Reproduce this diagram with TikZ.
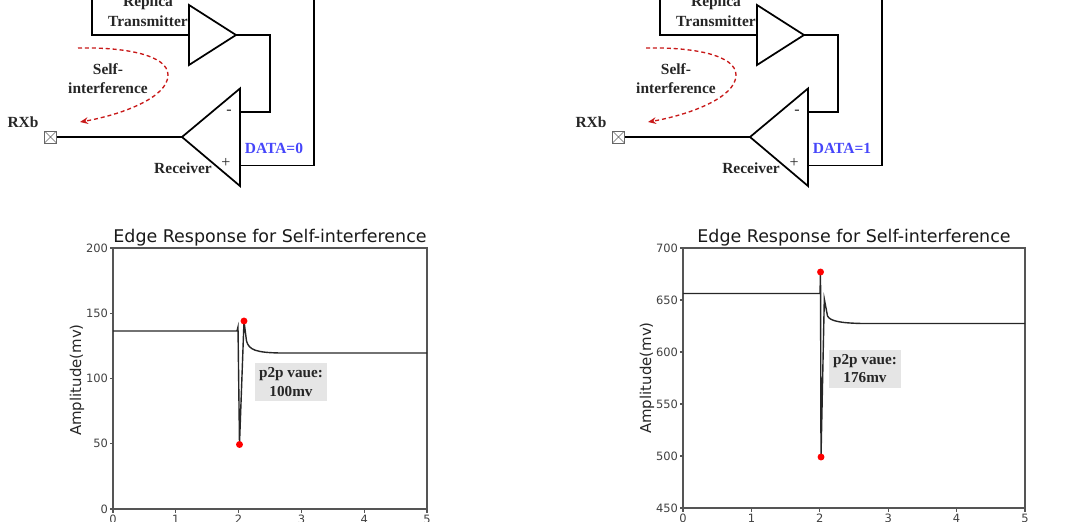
\documentclass[tikz,border=0pt]{standalone}
\usepackage{fontspec}
\setmainfont{Liberation Serif}
\newfontfamily\plotfont{DejaVu Sans}
\usetikzlibrary{arrows.meta}

\definecolor{databl}{RGB}{70,70,250}
\definecolor{sired}{RGB}{200,25,25}
\definecolor{axgray}{RGB}{85,85,85}

\tikzset{every picture/.style={line width=0.75pt}}
\tikzset{
  cirlbl/.style={font=\fontsize{11.6}{13.5}\selectfont\bfseries, text=black!85, inner sep=0pt},
  signlbl/.style={font=\fontsize{12}{14}\selectfont, text=black!85, inner sep=0pt},
  ticklbl/.style={font=\plotfont\fontsize{8.6}{10}\selectfont, text=black!75, inner sep=0pt},
  plottitle/.style={font=\plotfont\fontsize{13.1}{15}\selectfont, text=black!90, inner sep=0pt},
  axlbl/.style={font=\plotfont\fontsize{11.2}{13}\selectfont, text=black!85, inner sep=0pt, rotate=90},
  p2pbox/.style={fill=black!10, inner sep=0pt, minimum width=54pt, minimum height=28.5pt, align=center,
    font=\fontsize{11.4}{13.8}\selectfont\bfseries, text=black!85},
  reddot/.style={circle, fill=red, inner sep=0pt, minimum size=5.2pt},
  pad/.style={draw=black!60, fill=white, line width=0.6, inner sep=0pt, minimum size=9pt,
    path picture={\draw [black!60, line width=0.5] (path picture bounding box.north west) -- (path picture bounding box.south east)
      (path picture bounding box.north east) -- (path picture bounding box.south west);}}
}

\begin{document}
\begin{tikzpicture}[x=0.75pt,y=0.75pt,yscale=-1,xscale=1]
	%set diagram size 1080 x 521
	\useasboundingbox (0,0) rectangle (1080,521);
	\clip (0,0) rectangle (1080,521);

	%Circuits, DATA=0 and DATA=1
	\foreach \dx/\bit/\s in {0/0/a,568/1/b}{
	\begin{scope}[shift={(\dx,0)}]
	%Shape: Triangle [replica transmitter]
	\draw [line width=1.3] (189,5) -- (236,35) -- (189,65) -- cycle ;
	\coordinate (txin\s) at (189,35) ;
	\coordinate (txout\s) at (236,35) ;
	%Shape: Triangle [receiver]
	\draw [line width=1.3] (240,88.5) -- (182,137) -- (240,186) -- cycle ;
	\coordinate (rxin\s) at (182,137) ;
	\coordinate (rxneg\s) at (240,112) ;
	\coordinate (rxpos\s) at (240,165.5) ;
	%Straight Lines [transmitter input]
	\draw [line width=1.3] (92,-2) |- (txin\s) ;
	%Straight Lines [replica to minus]
	\draw [line width=1.3] (txout\s) -- (270,35) |- (rxneg\s) ;
	%Straight Lines [plus input]
	\draw [line width=1.3] (rxpos\s) -| (314,-2) ;
	%Pad
	\node (pad\s) [pad] at (50.5,137) {};
	\draw [line width=1.3] (pad\s.east) -- (rxin\s) ;
	%Curve Lines [self-interference]
	\draw [sired, line width=1, dash pattern={on 3pt off 2.2pt}, -{Stealth[length=6pt,width=5pt]}] (78,48) .. controls (125,47) and (168,55) .. (168,75) .. controls (168,98) and (120,115) .. (80,122) ;

	% Text Node
	\node (rep\s) [cirlbl] at (148,3) {Replica};
	% Text Node
	\node (trn\s) [cirlbl] at (148,21.5) {Transmitter};
	% Text Node
	\node (self\s) [cirlbl] at (108,69.5) {Self-};
	% Text Node
	\node (intf\s) [cirlbl] at (108,88.5) {interference};
	% Text Node
	\node (rxb\s) [cirlbl] at (23,122.5) {RXb};
	% Text Node
	\node (rcv\s) [cirlbl] at (183,168.5) {Receiver};
	% Text Node
	\node (neg\s) [signlbl] at (229,112) {-};
	% Text Node
	\node (pos\s) [signlbl] at (226,162.5) {+};
	% Text Node
	\node (data\s) [cirlbl, text=databl] at (274,148.5) {DATA=\bit};
	\end{scope}
	}

	%Plot [DATA=0]
	\draw [axgray, line width=1.5] (113,248) rectangle (427,509) ;
	\foreach \y/\lab in {509/0,443.75/50,378.5/100,313.25/150,248/200}{
		\draw [axgray, line width=0.8] (113,\y) -- (109.5,\y) ;
		\node (ly\lab) [ticklbl, anchor=east] at (108.5,\y) {\lab};
	}
	\foreach \x/\lab in {113/0,175.8/1,238.6/2,301.4/3,364.2/4,427/5}{
		\draw [axgray, line width=0.8] (\x,509) -- (\x,512.5) ;
		\node (lx\lab) [ticklbl, anchor=north] at (\x,514.5) {\lab};
	}
	\node (ltitle) [plottitle] at (270,237.5) {Edge Response for Self-interference};
	\node (lylab) [axlbl] at (77,380) {Amplitude(mv)};
	%Curve Lines [edge response]
	\draw [black!85, line width=1.05] (113,331) -- (237,331) -- (238,327) -- (239.5,444) -- (244,321) -- (246.5,341) .. controls (249,350) and (256,352.5) .. (280,353) -- (427,353) ;
	\node (lmin) [reddot] at (239.5,444.5) {};
	\node (lmax) [reddot] at (244,321) {};
	\node (lp2p) [p2pbox] at (291,382) {p2p vaue:\\100mv};

	%Plot [DATA=1]
	\draw [axgray, line width=1.5] (683,248) rectangle (1025,508) ;
	\foreach \y/\lab in {508/450,456/500,404/550,352/600,300/650,248/700}{
		\draw [axgray, line width=0.8] (683,\y) -- (679.5,\y) ;
		\node (ry\lab) [ticklbl, anchor=east] at (678.5,\y) {\lab};
	}
	\foreach \x/\lab in {683/0,751.4/1,819.8/2,888.2/3,956.6/4,1025/5}{
		\draw [axgray, line width=0.8] (\x,508) -- (\x,511.5) ;
		\node (rx\lab) [ticklbl, anchor=north] at (\x,513.5) {\lab};
	}
	\node (rtitle) [plottitle] at (854,237.5) {Edge Response for Self-interference};
	\node (rylab) [axlbl] at (647,378) {Amplitude(mv)};
	%Curve Lines [edge response]
	\draw [black!85, line width=1.05] (683,293.5) -- (820,293.5) -- (820.5,272) -- (821,457) -- (824.3,299) -- (827.5,316) .. controls (830,321) and (840,323) .. (862,323.5) -- (1025,323.5) ;
	\node (rmax) [reddot] at (820.5,272) {};
	\node (rmin) [reddot] at (821,457) {};
	\node (rp2p) [p2pbox] at (865,368.5) {p2p vaue:\\176mv};

\end{tikzpicture}
\end{document}
